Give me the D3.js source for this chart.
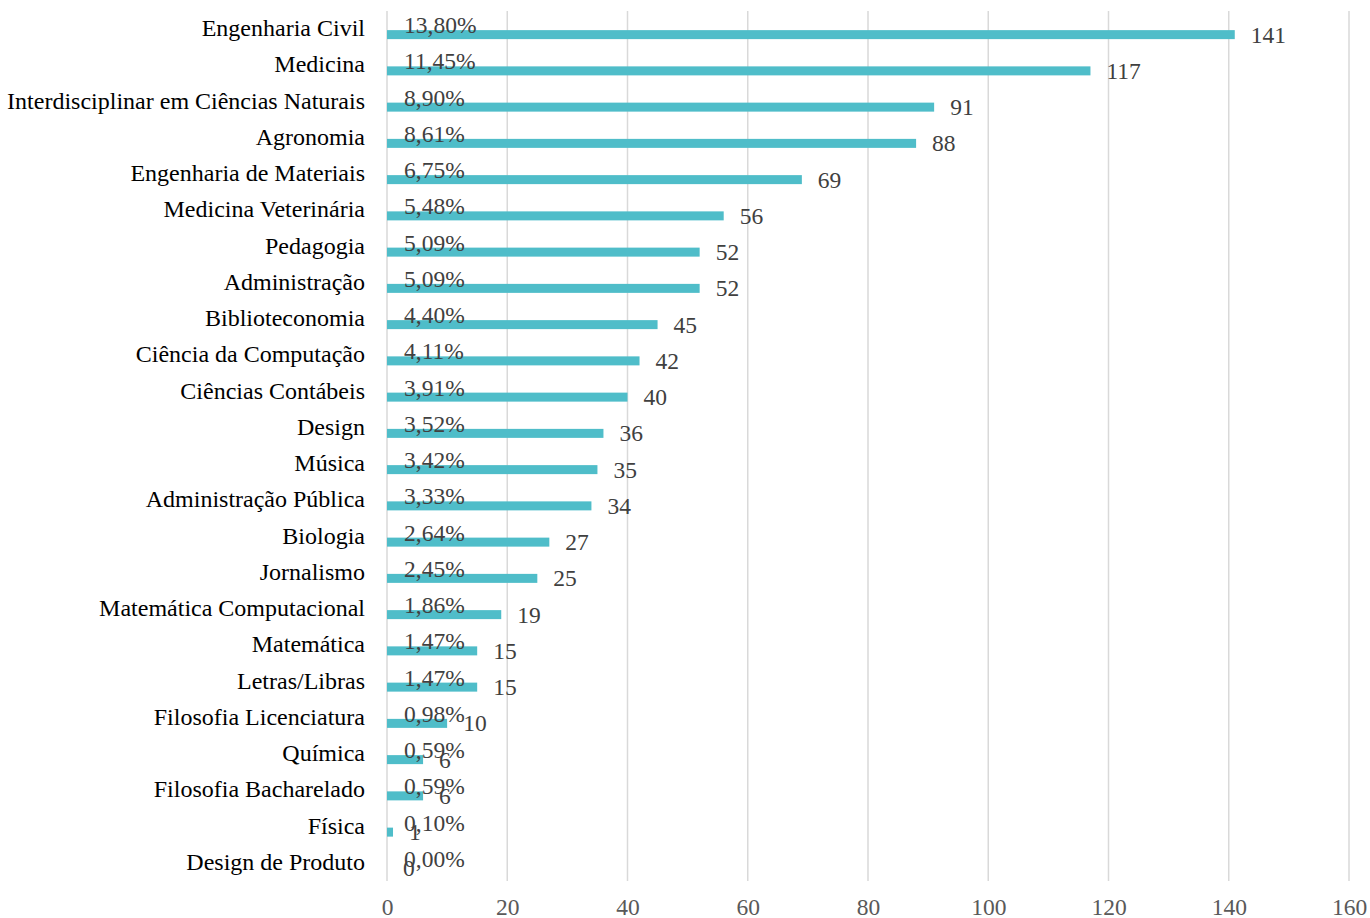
<!DOCTYPE html>
<html><head><meta charset="utf-8">
<script src="https://cdn.jsdelivr.net/npm/d3@7"></script>
<style>body{margin:0;background:#fff}svg{display:block}</style>
</head><body>
<svg id="c" width="1370" height="918"></svg>
<script>
const categories = ["Engenharia Civil","Medicina","Interdisciplinar em Ciências Naturais","Agronomia","Engenharia de Materiais","Medicina Veterinária","Pedagogia","Administração","Biblioteconomia","Ciência da Computação","Ciências Contábeis","Design","Música","Administração Pública","Biologia","Jornalismo","Matemática Computacional","Matemática","Letras/Libras","Filosofia Licenciatura","Química","Filosofia Bacharelado","Física","Design de Produto"];
const counts = [141,117,91,88,69,56,52,52,45,42,40,36,35,34,27,25,19,15,15,10,6,6,1,0];
const percents = [13.80,11.45,8.90,8.61,6.75,5.48,5.09,5.09,4.40,4.11,3.91,3.52,3.42,3.33,2.64,2.45,1.86,1.47,1.47,0.98,0.59,0.59,0.10,0.00];
const xTicks = [0,20,40,60,80,100,120,140,160];

const svg = d3.select("#c");
const font = "'Liberation Serif','Times New Roman',serif";
const x = d3.scaleLinear().domain([0,160]).range([387,1349]);
const y = d3.scaleBand().domain(categories).range([11,881]).padding(0);

// gridlines
svg.append("g").selectAll("line").data(xTicks).join("line")
  .attr("x1",d=>x(d)).attr("x2",d=>x(d)).attr("y1",11).attr("y2",881)
  .attr("stroke","#d9d9d9").attr("stroke-width",1.5);

// axis tick labels
const ax = d3.axisBottom(x).tickValues(xTicks).tickSize(0).tickFormat(d3.format("d"));
const axG = svg.append("g").attr("transform","translate(0,881)").call(ax);
axG.select(".domain").remove();
axG.selectAll("text").attr("font-family",font).attr("font-size",23.5).attr("fill","#595959").attr("dy",null).attr("y",33.5);

// bars
const data = categories.map((c,i)=>({c, n:counts[i], p:percents[i]}));
svg.append("g").selectAll("rect").data(data).join("rect")
  .attr("x",x(0)).attr("y",d=>y(d.c)+y.bandwidth()/2+1)
  .attr("width",d=>x(d.n)-x(0)).attr("height",9).attr("fill","#4fbdc9");

// category labels
svg.append("g").selectAll("text").data(data).join("text")
  .attr("x",365).attr("y",d=>y(d.c)+y.bandwidth()/2+7)
  .attr("text-anchor","end").attr("font-family",font).attr("font-size",24).attr("fill","#000")
  .text(d=>d.c);

// percent labels
const pf = v => v.toFixed(2).replace(".",",")+"%";
svg.append("g").selectAll("text").data(data).join("text")
  .attr("x",x(0)+17).attr("y",d=>y(d.c)+y.bandwidth()/2+4)
  .attr("font-family",font).attr("font-size",23.5).attr("fill","#404040")
  .text(d=>pf(d.p));

// count labels
svg.append("g").selectAll("text").data(data).join("text")
  .attr("x",d=>x(d.n)+16).attr("y",d=>y(d.c)+y.bandwidth()/2+13.5)
  .attr("font-family",font).attr("font-size",23.5).attr("fill","#404040")
  .text(d=>d.n);
</script>
</body></html>
